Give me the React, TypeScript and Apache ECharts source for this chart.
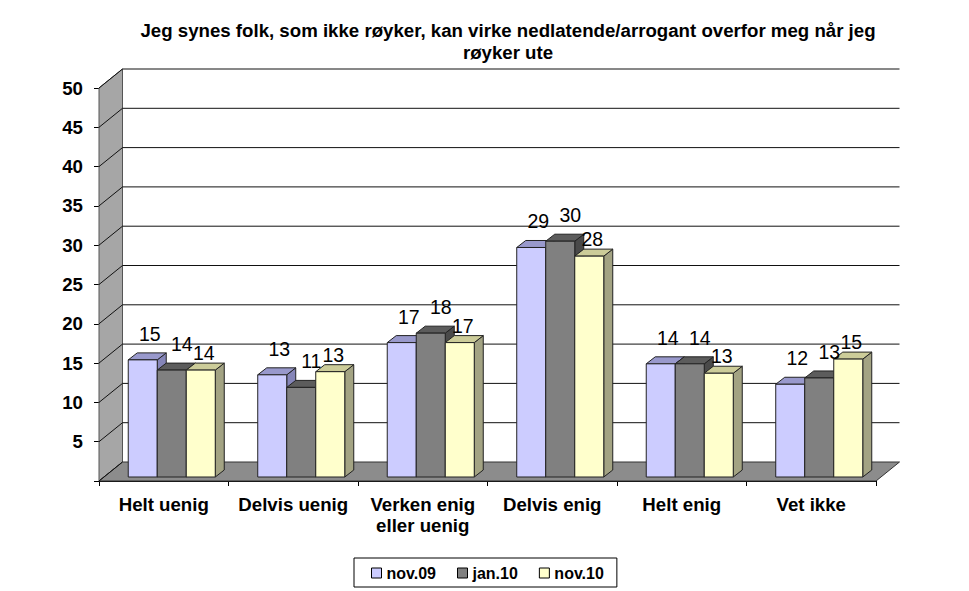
import React, { useEffect, useRef } from "react";
import * as echarts from "echarts";

const titleLines = [
  "Jeg synes folk, som ikke røyker, kan virke nedlatende/arrogant overfor meg når jeg",
  "røyker ute",
];
const categories = [
  "Helt uenig",
  "Delvis uenig",
  "Verken enig\neller uenig",
  "Delvis enig",
  "Helt enig",
  "Vet ikke",
];
const seriesNames = ["nov.09", "jan.10", "nov.10"];
const nov09 = [14.9, 13.0, 17.1, 29.2, 14.4, 11.8];
const jan10 = [13.6, 11.4, 18.3, 30.0, 14.4, 12.6];
const nov10 = [13.6, 13.4, 17.1, 28.1, 13.2, 15.0];
const seriesValues = [nov09, jan10, nov10];
const yTicks = [0, 5, 10, 15, 20, 25, 30, 35, 40, 45, 50];

// styles
const FRONT = ["#ccccff", "#808080", "#ffffcc"];
const TOPC = ["#9999cc", "#5c5c5c", "#cccc99"];
const SIDE = ["#8585b8", "#4a4a4a", "#a3a383"];
const LABEL_OFF = [
  [7, -26],
  [10, -26],
  [3, -17],
];
const DX = 23.5;
const DY = -19;
const BDX = 9;
const BDY = -7;

export default function App() {
  const ref = useRef<HTMLDivElement>(null);
  useEffect(() => {
    if (!ref.current) return;
    const chart = echarts.init(ref.current, null, { renderer: "svg" });
    const font = "Arial, 'Liberation Sans', sans-serif";
    const BIG = 18.67;

    const wallSeries: any = {
      type: "custom",
      name: "walls",
      z: 1,
      silent: true,
      data: yTicks.map((v) => [0, v]),
      renderItem: (params: any, api: any) => {
        const v = api.value(1);
        const cs = params.coordSys;
        const x0 = cs.x;
        const x1 = cs.x + cs.width;
        const y = api.coord([0, v])[1];
        const children: any[] = [];
        if (v === 0) {
          const yTop = api.coord([0, 50])[1];
          children.push({
            type: "polygon",
            shape: {
              points: [
                [x0, yTop],
                [x0 + DX, yTop + DY],
                [x0 + DX, y + DY],
                [x0, y],
              ],
            },
            style: { fill: "#a6a6a6", stroke: "#555", lineWidth: 1 },
          });
          children.push({
            type: "polygon",
            shape: {
              points: [
                [x0, y],
                [x1, y],
                [x1 + DX, y + DY],
                [x0 + DX, y + DY],
              ],
            },
            style: { fill: "#8c8c8c", stroke: "#333", lineWidth: 1 },
          });
        } else {
          children.push({
            type: "line",
            shape: { x1: x0 + DX, y1: y + DY, x2: x1 + DX, y2: y + DY },
            style: { stroke: "#111", lineWidth: 1 },
          });
        }
        children.push({
          type: "line",
          shape: { x1: x0, y1: y, x2: x0 + DX, y2: y + DY },
          style: { stroke: "#111", lineWidth: 1 },
        });
        return { type: "group", children };
      },
    };

    const barSeries = seriesValues.map((vals, k) => ({
      type: "custom",
      name: seriesNames[k],
      z: 2,
      itemStyle: { color: FRONT[k], borderColor: "#000", borderWidth: 1 },
      data: vals.map((v, i) => [i, v]),
      renderItem: (params: any, api: any) => {
        const i = api.value(0);
        const v = api.value(1);
        const base = api.coord([i, 0]);
        const topP = api.coord([i, v]);
        const band = api.size([1, 0])[0];
        const w = band * 0.224;
        const L = base[0] - 1.5 * w + k * w + 8;
        const R = L + w;
        const B = base[1] - 4;
        const T = topP[1] - 4;
        const stroke = { stroke: "#222", lineWidth: 1 };
        return {
          type: "group",
          children: [
            {
              type: "polygon",
              shape: { points: [[R, T], [R + BDX, T + BDY], [R + BDX, B + BDY], [R, B]] },
              style: { fill: SIDE[k], ...stroke },
            },
            {
              type: "polygon",
              shape: { points: [[L, T], [R, T], [R + BDX, T + BDY], [L + BDX, T + BDY]] },
              style: { fill: TOPC[k], ...stroke },
            },
            {
              type: "rect",
              shape: { x: L, y: T, width: w, height: B - T },
              style: { fill: FRONT[k], ...stroke },
            },
            {
              type: "text",
              z2: 100,
              style: {
                text: String(Math.round(v)),
                x: (L + R) / 2 + LABEL_OFF[k][0],
                y: T + LABEL_OFF[k][1],
                align: "center",
                verticalAlign: "middle",
                fill: "#000",
                font: `19.5px ${font}`,
              },
            },
          ],
        };
      },
    }));

    chart.setOption({
      animation: false,
      title: {
        text: titleLines.join("\n"),
        left: 503,
        top: 14,
        textAlign: "center",
        textStyle: {
          fontFamily: font,
          fontWeight: "bold",
          fontSize: BIG,
          lineHeight: 22,
          color: "#000",
        },
      },
      legend: {
        left: 354,
        top: 558,
        padding: [7, 13, 6, 17],
        itemGap: 21,
        itemWidth: 10,
        itemHeight: 10,
        itemTextGap: 3,
        borderColor: "#000",
        borderWidth: 1,
        icon: "rect",
        textStyle: { fontFamily: font, fontWeight: "bold", fontSize: 16, color: "#000" },
        data: seriesNames.map((n, k) => ({
          name: n,
          itemStyle: { color: FRONT[k], borderColor: "#000", borderWidth: 1 },
        })),
      },
      grid: {
        left: 99,
        top: 88,
        width: 777,
        height: 393,
        outerBoundsMode: "none",
        containLabel: false,
      },
      xAxis: {
        type: "category",
        data: categories,
        axisLine: { show: true, lineStyle: { color: "#000", width: 1 } },
        axisTick: { show: true, length: 5, lineStyle: { color: "#000" } },
        axisLabel: {
          interval: 0,
          margin: 13,
          fontFamily: font,
          fontWeight: "bold",
          fontSize: BIG,
          lineHeight: 21,
          color: "#000",
        },
        splitLine: { show: false },
      },
      yAxis: {
        type: "value",
        min: 0,
        max: 50,
        interval: 5,
        axisLine: { show: true, lineStyle: { color: "#000", width: 1 } },
        axisTick: { show: true, length: 5, lineStyle: { color: "#000" } },
        axisLabel: {
          margin: 16,
          fontFamily: font,
          fontWeight: "bold",
          fontSize: BIG,
          color: "#000",
          formatter: (v: number) => (v === 0 ? "" : String(v)),
        },
        splitLine: { show: false },
      },
      series: [wallSeries, ...barSeries],
    });
    return () => chart.dispose();
  }, []);
  return <div ref={ref} style={{ width: 969, height: 591, position: "absolute", left: 0, top: 0 }} />;
}
